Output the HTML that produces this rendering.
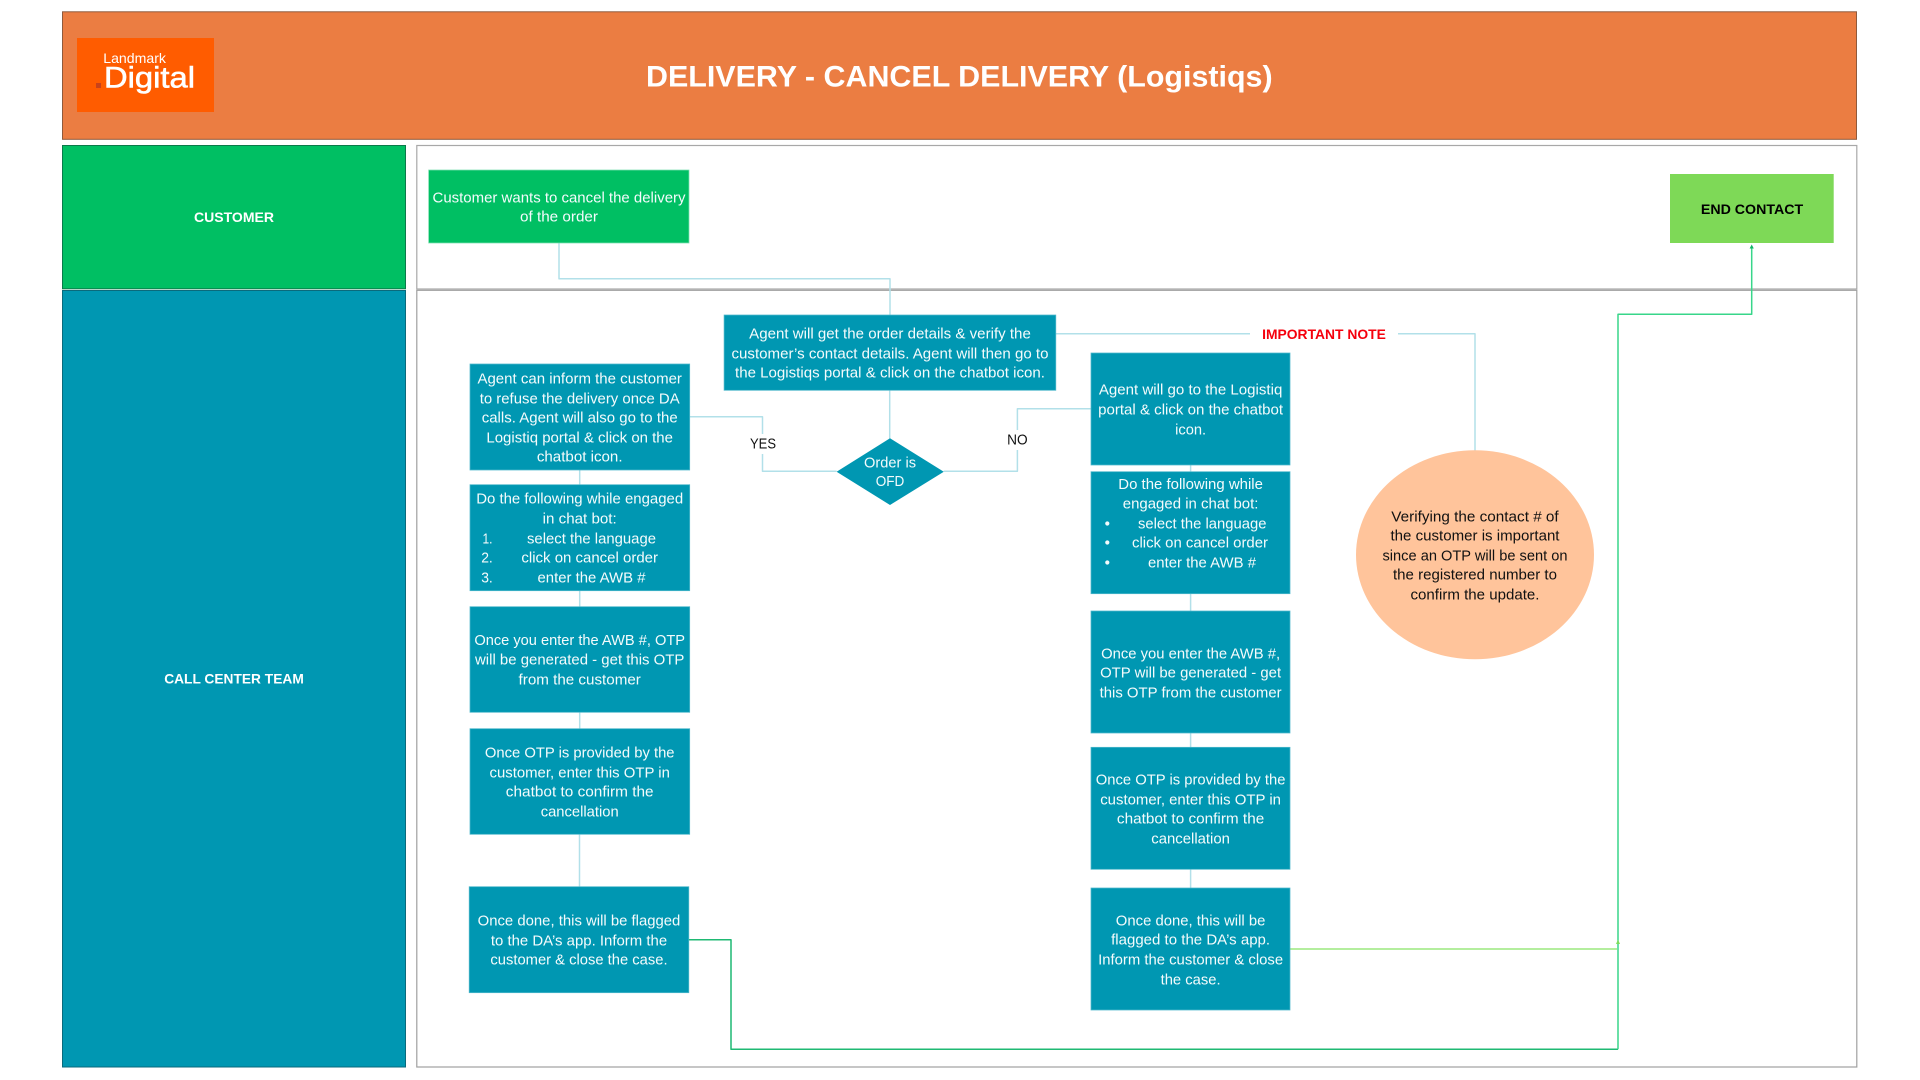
<!DOCTYPE html>
<html lang="en">
<head>
<meta charset="utf-8">
<title>Delivery - Cancel Delivery (Logistiqs)</title>
<style>
html,body{margin:0;padding:0;background:#fff;width:1920px;height:1080px;overflow:hidden}
svg{display:block}
text{font-family:"Liberation Sans",Arial,sans-serif;text-anchor:middle;font-size:15px;fill:#f4fbfc}
.k{fill:#111}
.b{font-weight:bold}
.c{fill:none;stroke:#b2e0e9;stroke-width:1.5;stroke-linejoin:round}
.box{fill:#0097b2;stroke:#4fb8cb;stroke-width:.75}
</style>
</head>
<body>
<svg width="1920" height="1080" viewBox="0 0 1920 1080" xmlns="http://www.w3.org/2000/svg">
<rect width="1920" height="1080" fill="#fff"/>

<!-- header -->
<rect x="62.5" y="11.8" width="1794" height="127.5" fill="#eb7d42" stroke="#8f5a3c" stroke-width="1"/>
<rect x="77" y="38" width="137" height="74" fill="#ff5c00"/>
<text x="134.6" y="63" textLength="62.7" lengthAdjust="spacingAndGlyphs" style="font-size:14px;fill:#fff">Landmark</text>
<text x="149.5" y="87.7" textLength="91" lengthAdjust="spacingAndGlyphs" style="font-size:30px;fill:#fff;stroke:#fff;stroke-width:.6">Digital</text>
<rect x="96" y="83" width="5" height="5" fill="#c8421a"/>
<text x="959.3" y="86.7" textLength="626.6" lengthAdjust="spacingAndGlyphs" class="b" style="font-size:30px;fill:#fff">DELIVERY - CANCEL DELIVERY (Logistiqs)</text>

<!-- lanes -->
<rect x="62.5" y="145.5" width="343" height="143.3" fill="#00bf63" stroke="#0b7a4a" stroke-width="1"/>
<rect x="62.5" y="290.5" width="343" height="776.5" fill="#0097b2" stroke="#0a6a7c" stroke-width="1"/>
<rect x="416.8" y="145.5" width="1440" height="143.5" fill="#fff" stroke="#a8a8a8" stroke-width="1.2"/>
<rect x="416.8" y="290.3" width="1440" height="776.7" fill="#fff" stroke="#a0a0a0" stroke-width="1.2"/>
<text x="234" y="222" textLength="80" lengthAdjust="spacingAndGlyphs" class="b" style="font-size:14px;fill:#fff">CUSTOMER</text>
<text x="234" y="683.5" textLength="139.6" lengthAdjust="spacingAndGlyphs" class="b" style="font-size:14px;fill:#fff">CALL CENTER TEAM</text>

<!-- connectors -->
<path class="c" d="M559 243V278.7H890V315"/>
<path class="c" d="M889.7 390V438.5"/>
<path class="c" d="M689.7 416.7H762.5V471.3H836.6"/>
<path class="c" d="M943.8 471.3H1017.4V408.7H1091"/>
<path class="c" d="M1056 333.7H1475V450.5"/>
<path class="c" d="M579.7 470V484.7M579.7 590.7V606.7M579.7 712.3V728.7M579.5 834.3V886.7"/>
<path class="c" d="M1190.6 465V471.7M1190.6 593.7V611M1190.6 733V747.3M1190.6 869.3V888"/>
<path d="M688.8 939.7H731V1049.3H1618" fill="none" stroke="#1fb973" stroke-width="1.5" stroke-linejoin="round"/>
<path d="M1618 1049.3V314.3H1751.7V248" fill="none" stroke="#38d68a" stroke-width="1.5" stroke-linejoin="round"/>
<path d="M1749.6 248.5L1751.7 244.5L1753.8 248.5Z" fill="#10b566"/>
<path d="M1290 949H1617" fill="none" stroke="#9be87f" stroke-width="1.5"/>
<path d="M1616 944L1618 939.5L1620 944Z" fill="#7ede5c"/>

<!-- label backgrounds -->
<rect x="1250" y="322" width="148" height="24" fill="#fff"/>
<rect x="748" y="434" width="30" height="20" fill="#fff"/>
<rect x="1005" y="430" width="25" height="20" fill="#fff"/>

<!-- customer lane nodes -->
<rect x="428.6" y="170" width="260.4" height="73" fill="#00bf63" stroke="#7fe0b1" stroke-width=".75"/>
<text x="559" y="202.5" textLength="253" lengthAdjust="spacingAndGlyphs">Customer wants to cancel the delivery</text>
<text x="559" y="221.5" textLength="78" lengthAdjust="spacingAndGlyphs">of the order</text>
<rect x="1670" y="174" width="163.7" height="69" fill="#7ed957"/>
<text x="1752" y="214" textLength="102.3" lengthAdjust="spacingAndGlyphs" class="b k" style="font-size:14px;fill:#000">END CONTACT</text>

<!-- centre -->
<rect class="box" x="724.1" y="315" width="331.7" height="75.3"/>
<text x="890" y="338.5" textLength="281.7" lengthAdjust="spacingAndGlyphs">Agent will get the order details &amp; verify the</text>
<text x="890" y="358.5" textLength="317" lengthAdjust="spacingAndGlyphs">customer’s contact details. Agent will then go to</text>
<text x="890" y="377.5" textLength="310" lengthAdjust="spacingAndGlyphs">the Logistiqs portal &amp; click on the chatbot icon.</text>
<path d="M890 438.3L943.8 471.7L890 505L836.6 471.7Z" fill="#0097b2"/>
<text x="890" y="467.5" textLength="52" lengthAdjust="spacingAndGlyphs">Order is</text>
<text x="890" y="486" textLength="28.6" lengthAdjust="spacingAndGlyphs">OFD</text>
<text x="763" y="448.6" textLength="26" lengthAdjust="spacingAndGlyphs" class="k">YES</text>
<text x="1017.4" y="444.6" textLength="20.5" lengthAdjust="spacingAndGlyphs" class="k">NO</text>
<text x="1324" y="339" textLength="123.7" lengthAdjust="spacingAndGlyphs" class="b" style="font-size:14px;fill:#f5000c">IMPORTANT NOTE</text>

<!-- left column -->
<rect class="box" x="470" y="364" width="219.7" height="106"/>
<text x="579.7" y="383.5" textLength="204.5" lengthAdjust="spacingAndGlyphs">Agent can inform the customer</text>
<text x="579.7" y="403.5" textLength="200" lengthAdjust="spacingAndGlyphs">to refuse the delivery once DA</text>
<text x="579.7" y="422.5" textLength="196" lengthAdjust="spacingAndGlyphs">calls. Agent will also go to the</text>
<text x="579.7" y="442.5" textLength="186.6" lengthAdjust="spacingAndGlyphs">Logistiq portal &amp; click on the</text>
<text x="579.7" y="461.5" textLength="85.7" lengthAdjust="spacingAndGlyphs">chatbot icon.</text>

<rect class="box" x="470" y="484.7" width="219.7" height="106"/>
<text x="579.7" y="503.5" textLength="207" lengthAdjust="spacingAndGlyphs">Do the following while engaged</text>
<text x="579.7" y="523.5" textLength="74" lengthAdjust="spacingAndGlyphs">in chat bot:</text>
<text x="487.5" y="543.5" textLength="10" lengthAdjust="spacingAndGlyphs">1.</text>
<text x="591.5" y="543.5" textLength="129" lengthAdjust="spacingAndGlyphs">select the language</text>
<text x="487" y="562.5" textLength="11.6" lengthAdjust="spacingAndGlyphs">2.</text>
<text x="589.7" y="562.5" textLength="136.6" lengthAdjust="spacingAndGlyphs">click on cancel order</text>
<text x="487" y="582.5" textLength="11.6" lengthAdjust="spacingAndGlyphs">3.</text>
<text x="591.5" y="582.5" textLength="108" lengthAdjust="spacingAndGlyphs">enter the AWB #</text>

<rect class="box" x="470" y="606.7" width="219.7" height="105.6"/>
<text x="579.7" y="645.2" textLength="210.7" lengthAdjust="spacingAndGlyphs">Once you enter the AWB #, OTP</text>
<text x="579.7" y="664.5" textLength="209.4" lengthAdjust="spacingAndGlyphs">will be generated - get this OTP</text>
<text x="579.7" y="684.5" textLength="122.3" lengthAdjust="spacingAndGlyphs">from the customer</text>

<rect class="box" x="470" y="728.7" width="219.7" height="105.6"/>
<text x="579.7" y="757.5" textLength="189.7" lengthAdjust="spacingAndGlyphs">Once OTP is provided by the</text>
<text x="579.7" y="777.5" textLength="180.4" lengthAdjust="spacingAndGlyphs">customer, enter this OTP in</text>
<text x="579.7" y="796.5" textLength="147.8" lengthAdjust="spacingAndGlyphs">chatbot to confirm the</text>
<text x="579.7" y="816.5" textLength="78" lengthAdjust="spacingAndGlyphs">cancellation</text>

<rect class="box" x="469.2" y="886.7" width="219.6" height="106"/>
<text x="579" y="925.5" textLength="202.7" lengthAdjust="spacingAndGlyphs">Once done, this will be flagged</text>
<text x="579" y="945.5" textLength="176.3" lengthAdjust="spacingAndGlyphs">to the DA’s app. Inform the</text>
<text x="579" y="964.5" textLength="177.2" lengthAdjust="spacingAndGlyphs">customer &amp; close the case.</text>

<!-- right column -->
<rect class="box" x="1091" y="353" width="199" height="112"/>
<text x="1190.6" y="394.5" textLength="183.5" lengthAdjust="spacingAndGlyphs">Agent will go to the Logistiq</text>
<text x="1190.6" y="414.5" textLength="185" lengthAdjust="spacingAndGlyphs">portal &amp; click on the chatbot</text>
<text x="1190.6" y="434.5" textLength="31" lengthAdjust="spacingAndGlyphs">icon.</text>

<rect class="box" x="1091" y="471.7" width="199" height="122"/>
<text x="1190.6" y="489.2" textLength="144.6" lengthAdjust="spacingAndGlyphs">Do the following while</text>
<text x="1190.6" y="508.5" textLength="135.7" lengthAdjust="spacingAndGlyphs">engaged in chat bot:</text>
<circle cx="1107.3" cy="523.5" r="2.1" fill="#f4fbfc"/>
<text x="1202.2" y="528.5" textLength="128.5" lengthAdjust="spacingAndGlyphs">select the language</text>
<circle cx="1107.3" cy="542.5" r="2.1" fill="#f4fbfc"/>
<text x="1200" y="547.5" textLength="136" lengthAdjust="spacingAndGlyphs">click on cancel order</text>
<circle cx="1107.3" cy="562.5" r="2.1" fill="#f4fbfc"/>
<text x="1202" y="567.5" textLength="108" lengthAdjust="spacingAndGlyphs">enter the AWB #</text>

<rect class="box" x="1091" y="611" width="199" height="122"/>
<text x="1190.6" y="658.5" textLength="179" lengthAdjust="spacingAndGlyphs">Once you enter the AWB #,</text>
<text x="1190.6" y="677.5" textLength="181" lengthAdjust="spacingAndGlyphs">OTP will be generated - get</text>
<text x="1190.6" y="697.5" textLength="182" lengthAdjust="spacingAndGlyphs">this OTP from the customer</text>

<rect class="box" x="1091" y="747.3" width="199" height="122"/>
<text x="1190.6" y="784.5" textLength="189.7" lengthAdjust="spacingAndGlyphs">Once OTP is provided by the</text>
<text x="1190.6" y="804.5" textLength="180.8" lengthAdjust="spacingAndGlyphs">customer, enter this OTP in</text>
<text x="1190.6" y="823.5" textLength="147.3" lengthAdjust="spacingAndGlyphs">chatbot to confirm the</text>
<text x="1190.6" y="843.5" textLength="78.6" lengthAdjust="spacingAndGlyphs">cancellation</text>

<rect class="box" x="1091" y="888" width="199" height="122"/>
<text x="1190.6" y="925.5" textLength="149.6" lengthAdjust="spacingAndGlyphs">Once done, this will be</text>
<text x="1190.6" y="944.5" textLength="159" lengthAdjust="spacingAndGlyphs">flagged to the DA’s app.</text>
<text x="1190.6" y="964.5" textLength="185" lengthAdjust="spacingAndGlyphs">Inform the customer &amp; close</text>
<text x="1190.6" y="984.5" textLength="60" lengthAdjust="spacingAndGlyphs">the case.</text>

<!-- note oval -->
<ellipse cx="1475" cy="554.8" rx="119" ry="104.5" fill="#ffc49b"/>
<text x="1475" y="521.5" textLength="167.4" lengthAdjust="spacingAndGlyphs" class="k">Verifying the contact # of</text>
<text x="1475" y="540.5" textLength="169" lengthAdjust="spacingAndGlyphs" class="k">the customer is important</text>
<text x="1475" y="560.5" textLength="185" lengthAdjust="spacingAndGlyphs" class="k">since an OTP will be sent on</text>
<text x="1475" y="579.5" textLength="164" lengthAdjust="spacingAndGlyphs" class="k">the registered number to</text>
<text x="1475" y="599.5" textLength="129" lengthAdjust="spacingAndGlyphs" class="k">confirm the update.</text>
</svg>
</body>
</html>
